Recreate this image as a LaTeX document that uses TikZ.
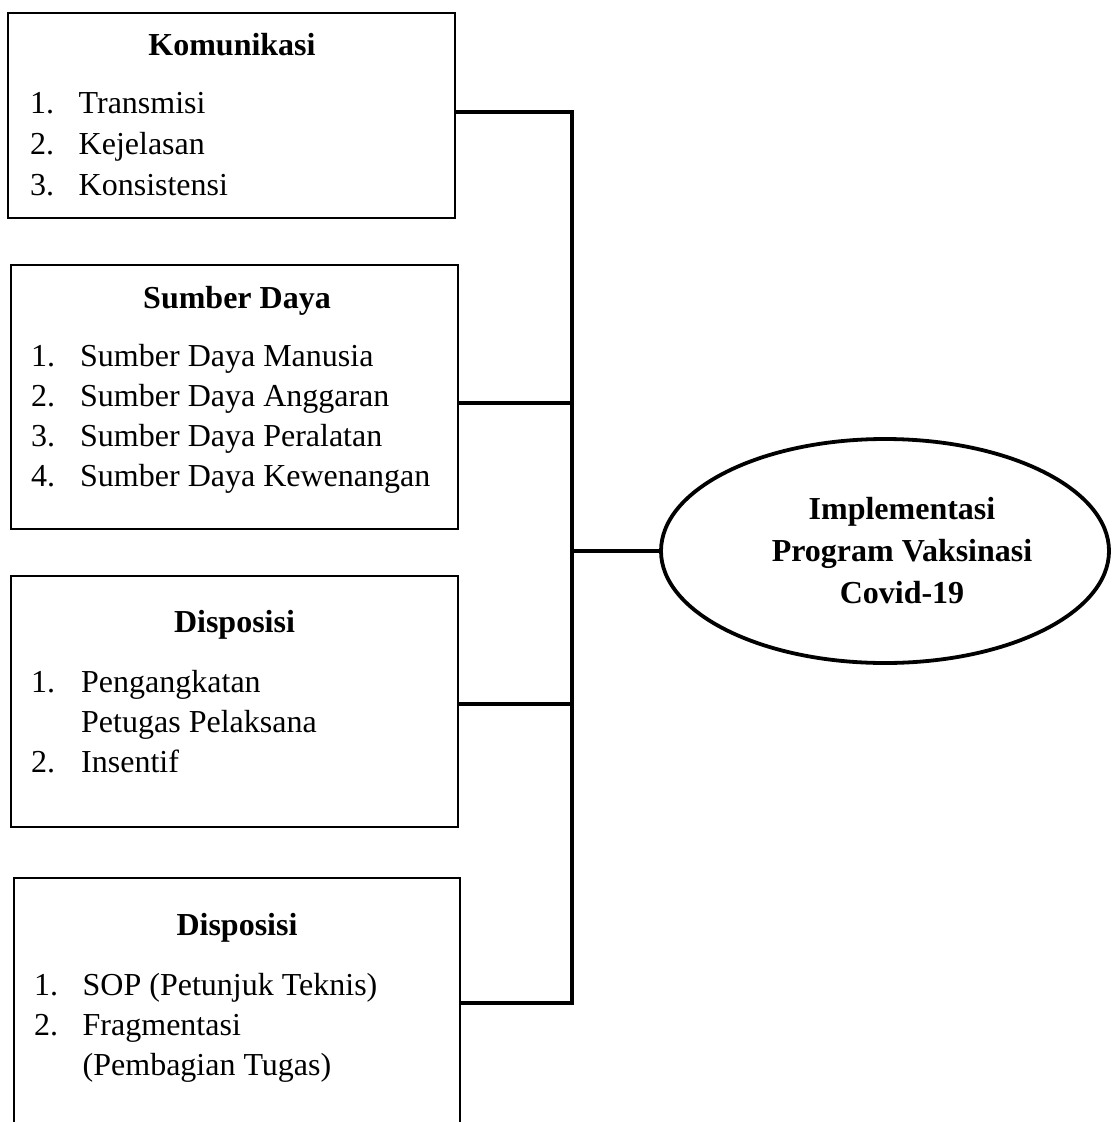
\documentclass[tikz,border=0pt]{standalone}
\usepackage{fontspec}
\setmainfont{Liberation Serif}
\usetikzlibrary{shapes.geometric,positioning}
\newcommand{\diafont}{\fontsize{32}{42}\selectfont}
\tikzset{
  box/.style={draw, line width=2.8pt, minimum width=447pt, inner sep=0pt},
  conn/.style={line width=3.6pt},
  title/.style={font=\diafont\bfseries, anchor=base, inner sep=0pt},
  item/.style={font=\diafont, anchor=base west, inner sep=0pt},
}
\begin{document}
\begin{tikzpicture}[x=1pt,y=-1pt]
\useasboundingbox (0,0) rectangle (1114,1122);
\clip (0,0) rectangle (1114,1122);
% Boxes
\node[box, minimum height=205pt] (kom) at (231.5,115.5) {};
\node[box, minimum height=264pt] (sd) at (234.5,397) {};
\node[box, minimum height=251pt] (disp) at (234.5,701.5) {};
\node[box, minimum width=446pt, minimum height=250pt] (sop) at (237,1003) {};
% Titles
\node[title] (kom-t) at (232,55) {Komunikasi};
\node[title] (sd-t) at (237,308) {Sumber Daya};
\node[title] (disp-t) at (234.5,632) {Disposisi};
\node[title] (sop-t) at (237,935) {Disposisi};
% Items
\foreach \y/\n/\t [count=\i] in {113/1./Transmisi, 154/2./Kejelasan, 195/3./Konsistensi} {
  \node[item] (kom-n\i) at (30,\y) {\n};
  \node[item] (kom-\i) at (78.5,\y) {\t};
}
\foreach \y/\n/\t [count=\i] in {366/1./Sumber Daya Manusia, 406/2./Sumber Daya Anggaran,
    446/3./Sumber Daya Peralatan, 486/4./Sumber Daya Kewenangan} {
  \node[item] (sd-n\i) at (31,\y) {\n};
  \node[item] (sd-\i) at (80,\y) {\t};
}
\foreach \y/\n/\t [count=\i] in {692/1./Pengangkatan, 732//Petugas Pelaksana, 772/2./Insentif} {
  \node[item] (disp-n\i) at (31,\y) {\n};
  \node[item] (disp-\i) at (81,\y) {\t};
}
\foreach \y/\n/\t [count=\i] in {995/1./SOP (Petunjuk Teknis), 1035/2./Fragmentasi, 1075//(Pembagian Tugas)} {
  \node[item] (sop-n\i) at (34,\y) {\n};
  \node[item] (sop-\i) at (82.5,\y) {\t};
}
% Result
\node[draw, ellipse, line width=3.8pt, minimum width=448pt, minimum height=224pt,
  inner sep=0pt] (impl) at (885,551) {};
\node[align=center, font=\diafont\bfseries, inner sep=0pt] (impl-t) at ([xshift=17pt]impl.center)
  {Implementasi\\Program Vaksinasi\\Covid-19};
% Connectors
\coordinate (bus) at (572,0);
\draw[conn] ([yshift=3.5pt]kom.east) -| ([yshift=3.5pt]kom.east -| bus) |- (sop.east);
\draw[conn] ([yshift=-6pt]sd.east) -- ([yshift=-6pt]sd.east -| bus);
\draw[conn] ([yshift=-2.5pt]disp.east) -- ([yshift=-2.5pt]disp.east -| bus);
\draw[conn] (impl.west) -- (impl.west -| bus);
\end{tikzpicture}
\end{document}
